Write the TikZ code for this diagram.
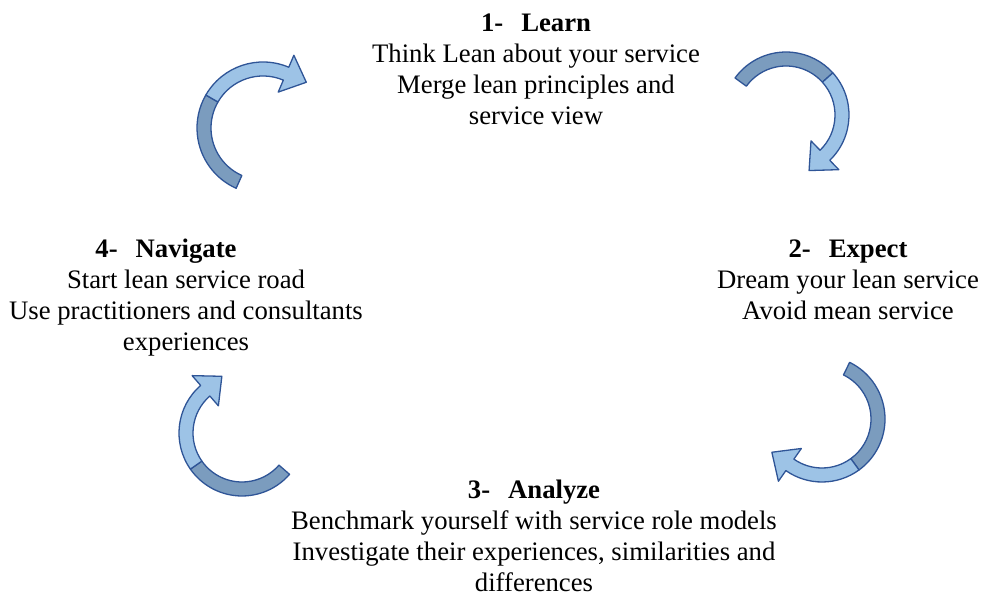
\documentclass[tikz,border=0pt]{standalone}
\usepackage{fontspec}
\setmainfont{Liberation Serif}
\usetikzlibrary{calc}
\definecolor{bandback}{HTML}{7B9CBE}
\definecolor{bandfront}{HTML}{9DC3E6}
\definecolor{bandline}{HTML}{2F5597}

\tikzset{
  stage/.style={align=center, inner sep=0pt, anchor=north,
    font=\fontsize{26.7}{31}\selectfont},
  backpart/.style={fill=bandback, draw=bandline, line width=1.3pt, line join=round},
  frontpart/.style={fill=bandfront, draw=bandline, line width=1.3pt, line join=round},
}

% curved block arrow turning clockwise around #1
% #2 radius, #3 tail angle, #4 angle where the colour changes, #5 angle of the head
\newcommand{\cyclearrow}[5]{%
  \pgfmathsetmacro{\bandout}{#2+7}%
  \pgfmathsetmacro{\bandin}{#2-7}%
  \pgfmathsetmacro{\headout}{#2+20}%
  \pgfmathsetmacro{\headin}{#2-20}%
  \filldraw[backpart] ($#1+(#3:\bandout)$) arc[start angle=#3, end angle=#4, radius=\bandout]
    -- ($#1+(#4:\bandin)$) arc[start angle=#4, end angle=#3, radius=\bandin] -- cycle;
  \filldraw[frontpart] ($#1+(#4:\bandout)$) arc[start angle=#4, end angle=#5, radius=\bandout]
    -- ($#1+(#5:\headout)$) -- ($#1+(#5:#2)+(#5-90:22)$) -- ($#1+(#5:\headin)$)
    -- ($#1+(#5:\bandin)$) arc[start angle=#5, end angle=#4, radius=\bandin] -- cycle;
}

\begin{document}
\begin{tikzpicture}[x=1pt, y=1pt]
  \useasboundingbox (0,0) rectangle (988,599);

  \node[stage] (learn) at (536,585) {\textbf{1-\hspace{18pt}Learn}\\
    Think Lean about your service\\Merge lean principles and\\service view};
  \node[stage] (expect) at (848,359) {\textbf{2-\hspace{18pt}Expect}\\
    Dream your lean service\\Avoid mean service};
  \node[stage] (analyze) at (534,119) {\textbf{3-\hspace{18pt}Analyze}\\
    Benchmark yourself with service role models\\
    Investigate their experiences, similarities and\\differences};
  \node[stage] (navigate) at (186,360) {\textbf{4-\hspace{18pt}Navigate}\makebox[40pt]{}\\
    Start lean service road\\Use practitioners and consultants\\experiences};

  % arrows between the stages
  \coordinate (navlearn) at (263,471);
  \coordinate (learnexp) at (786,484);
  \coordinate (expana) at (822,180);
  \coordinate (ananav) at (242,166);
  \cyclearrow{(navlearn)}{59}{246}{150}{67}
  \cyclearrow{(learnexp)}{56}{144}{42}{-46}
  \cyclearrow{(expana)}{56}{64}{-54}{-125}
  \cyclearrow{(ananav)}{56}{-41}{-145}{-229}
\end{tikzpicture}
\end{document}
